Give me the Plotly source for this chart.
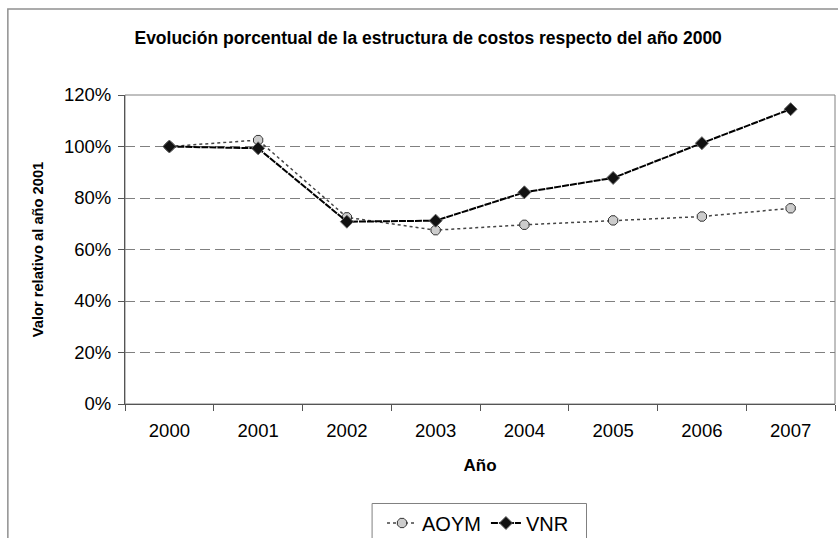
import plotly.graph_objects as go

# Chart data.
years = ["2000", "2001", "2002", "2003", "2004", "2005", "2006", "2007"]
aoym = [1.00, 1.025, 0.725, 0.675, 0.696, 0.713, 0.728, 0.760]
vnr = [1.00, 0.993, 0.708, 0.712, 0.822, 0.878, 1.013, 1.145]
y_ticks = [0, 0.2, 0.4, 0.6, 0.8, 1.0, 1.2]

font = "Liberation Sans, Arial, sans-serif"

fig = go.Figure()
fig.add_trace(go.Scatter(
    x=years, y=aoym, name="AOYM", mode="lines+markers",
    line=dict(color="#444444", width=1.5, dash="dot"),
    marker=dict(symbol="octagon", size=10, color="#cccccc",
                line=dict(color="#333333", width=1)),
))
fig.add_trace(go.Scatter(
    x=years, y=vnr, name="VNR", mode="lines+markers",
    line=dict(color="black", width=2, dash="7px,1px"),
    marker=dict(symbol="diamond", size=10, color="#111111",
                line=dict(color="#666666", width=1)),
))

# Outer chart frame (runs past the right and bottom edges) and plot area border.
fig.add_shape(type="rect", xref="paper", yref="paper",
              x0=-0.165, x1=1.02, y0=-0.46, y1=1.278,
              line=dict(color="#909090", width=1.5), layer="below")
fig.add_shape(type="rect", xref="paper", yref="paper",
              x0=0, x1=1, y0=0, y1=1,
              line=dict(color="#808080", width=1), layer="below")
# Legend box (bottom edge falls outside the picture).
fig.add_shape(type="rect", xref="paper", yref="paper",
              x0=0.348, x1=0.650, y0=-0.322, y1=-0.46,
              line=dict(color="#808080", width=1), layer="below")

fig.update_layout(
    width=838, height=538,
    margin=dict(l=125, r=3, t=95, b=134, autoexpand=False),
    paper_bgcolor="white", plot_bgcolor="white",
    font=dict(family=font, color="black", size=18.5),
    title=dict(text="<b>Evolución porcentual de la estructura de costos respecto del año 2000</b>",
               x=0.427, xref="paper", xanchor="center", y=0.93, yanchor="middle",
               font=dict(size=17.5, family=font)),
    showlegend=True,
    legend=dict(orientation="h", x=0.362, y=-0.322, xanchor="left", yanchor="top",
                bgcolor="rgba(0,0,0,0)", borderwidth=0,
                font=dict(size=20), itemwidth=30),
)

fig.update_xaxes(
    type="category", range=[-0.5, 7.5], automargin=False,
    showline=True, linecolor="#555555", linewidth=1,
    ticks="outside", ticklen=6, tickcolor="#555555", tickson="boundaries",
    showgrid=False, tickfont=dict(size=18.5), ticklabelstandoff=10,
    title=dict(text="<b>Año</b>", font=dict(size=17), standoff=18),
)
fig.update_yaxes(
    range=[0, 1.2], tickvals=y_ticks, tickformat=".0%", automargin=False,
    showline=True, linecolor="#555555", linewidth=1,
    ticks="outside", ticklen=6, tickcolor="#555555",
    showgrid=True, gridcolor="#808080", gridwidth=1, griddash="10px,5px",
    zeroline=False, tickfont=dict(size=18.5), ticklabelstandoff=3,
    title=dict(text="<b>Valor relativo al año 2001</b>", font=dict(size=14.7), standoff=16),
)

# Drop the page's default body margin so the figure sits at the window's corner.
fig.write_html("out.html", config={"displayModeBar": False},
               post_script="document.body.style.margin='0px';document.body.style.overflow='hidden';")
